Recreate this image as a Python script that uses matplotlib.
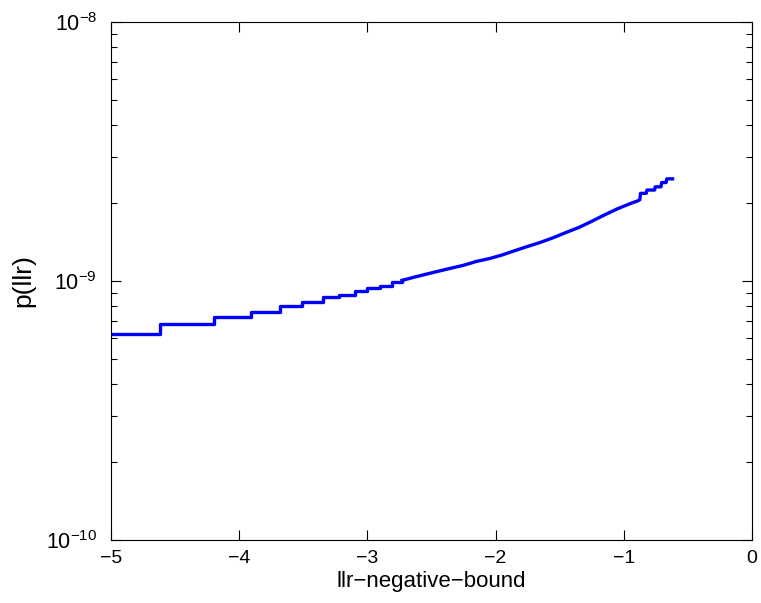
import numpy as np
import matplotlib.pyplot as plt
from matplotlib.ticker import FixedLocator, LogLocator, NullFormatter

# --- data ---
# coarse staircase on the left
llr_steps = [-5.00, -4.62, -4.20, -3.91, -3.68, -3.51, -3.35, -3.22, -3.10,
             -3.00, -2.90, -2.81, -2.73]
p_steps = [6.24e-10, 6.82e-10, 7.27e-10, 7.61e-10, 8.00e-10, 8.30e-10,
           8.65e-10, 8.85e-10, 9.12e-10, 9.40e-10, 9.60e-10, 9.90e-10, 1.005e-9]
# nearly smooth part on the right, ending in a few small steps
llr_tail = [-2.73, -2.65, -2.55, -2.45, -2.35, -2.25, -2.15, -2.05, -1.95,
            -1.85, -1.75, -1.65, -1.55, -1.45, -1.35, -1.25, -1.15, -1.05,
            -0.95, -0.89, -0.875, -0.87, -0.825, -0.82, -0.76, -0.755, -0.71,
            -0.705, -0.67, -0.665, -0.62]
p_tail = [1.005e-9, 1.03e-9, 1.06e-9, 1.09e-9, 1.12e-9, 1.15e-9, 1.19e-9,
          1.22e-9, 1.26e-9, 1.31e-9, 1.36e-9, 1.41e-9, 1.47e-9, 1.54e-9,
          1.61e-9, 1.70e-9, 1.80e-9, 1.90e-9, 1.99e-9, 2.04e-9, 2.06e-9,
          2.18e-9, 2.18e-9, 2.245e-9, 2.245e-9, 2.31e-9, 2.31e-9, 2.40e-9,
          2.40e-9, 2.48e-9, 2.48e-9]

x_ticks = [-5, -4, -3, -2, -1, 0]
x_labels = ['\u22125', '\u22124', '\u22123', '\u22122', '\u22121', '0']
y_ticks = [1e-10, 1e-9, 1e-8]
y_labels = ['$10^{-10}$', '$10^{-9}$', '$10^{-8}$']

plt.rcParams['font.family'] = ['Liberation Sans', 'DejaVu Sans']
plt.rcParams['mathtext.fontset'] = 'custom'
plt.rcParams['mathtext.rm'] = 'Liberation Sans'
plt.rcParams['mathtext.it'] = 'Liberation Sans'
plt.rcParams['mathtext.default'] = 'regular'

fig = plt.figure(figsize=(7.61, 6.03), dpi=100)
ax = fig.add_axes([0.1459, 0.1045, 0.8423, 0.859])

ax.plot(llr_steps, p_steps, color='#0000ff', linewidth=2.4, drawstyle='steps-post')
ax.plot(llr_tail, p_tail, color='#0000ff', linewidth=2.4)

ax.set_yscale('log')
ax.set_xlim(-5, 0)
ax.set_ylim(1e-10, 1e-8)
ax.xaxis.set_major_locator(FixedLocator(x_ticks))
ax.set_xticklabels(x_labels)
ax.yaxis.set_major_locator(FixedLocator(y_ticks))
ax.set_yticklabels(y_labels)
ax.yaxis.set_minor_locator(LogLocator(base=10, subs=np.arange(2, 10), numticks=10))
ax.yaxis.set_minor_formatter(NullFormatter())

ax.tick_params(which='both', direction='in', top=True, right=True, labelsize=14)
ax.tick_params(axis='x', pad=7)
ax.tick_params(axis='y', labelsize=15.5, pad=10)
ax.tick_params(which='major', length=7, width=0.8)
ax.tick_params(which='minor', length=4, width=0.8)
for s in ax.spines.values():
    s.set_linewidth(0.8)

ax.set_xlabel('llr\u2212negative\u2212bound', fontsize=16, labelpad=3)
ax.set_ylabel('p(llr)', fontsize=19, labelpad=8)

fig.savefig('out.png', dpi=100)
